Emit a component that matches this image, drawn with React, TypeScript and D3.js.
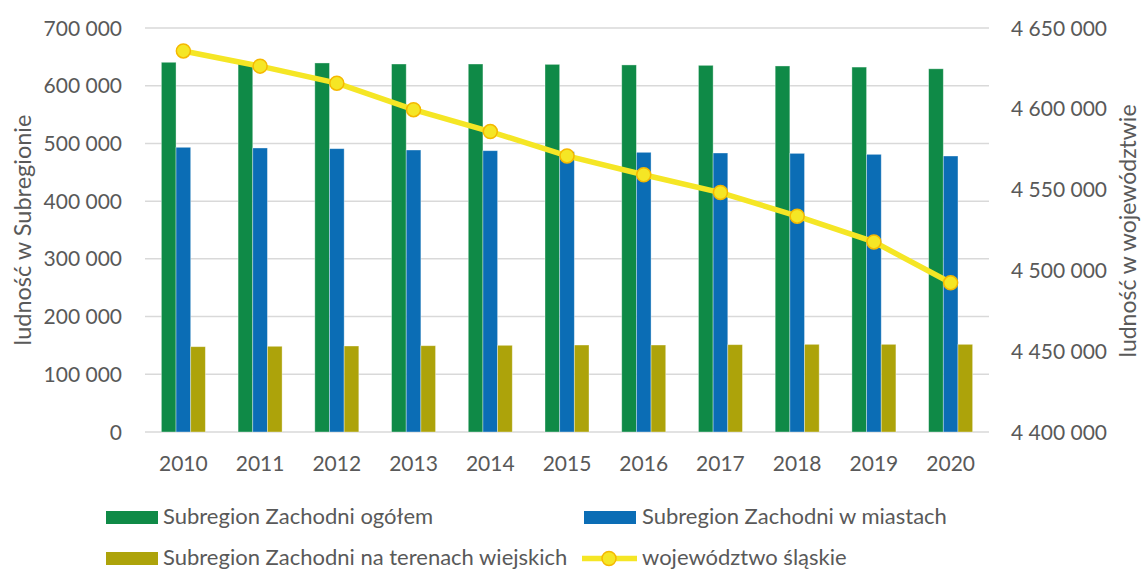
import * as d3 from 'd3';
import React from 'react';

const years = ['2010', '2011', '2012', '2013', '2014', '2015', '2016', '2017', '2018', '2019', '2020'];
const ogolem = [640600, 639500, 639400, 637600, 637600, 637000, 636000, 635300, 634200, 632300, 629300];
const miasta = [493300, 492100, 490900, 488600, 487400, 485700, 484600, 483400, 482800, 481100, 478200];
const wies = [147800, 148500, 149000, 149500, 150200, 150700, 150700, 151300, 151900, 151900, 151900];
const wojewodztwo = [4635800, 4626400, 4615870, 4599447, 4585924, 4570849, 4559164, 4548180, 4533565, 4517635, 4492330];

const leftTicks = [0, 100000, 200000, 300000, 400000, 500000, 600000, 700000];
const rightTicks = [4400000, 4450000, 4500000, 4550000, 4600000, 4650000];

const barSeries = [
  { name: 'Subregion Zachodni ogółem', values: ogolem, color: '#0F8A47' },
  { name: 'Subregion Zachodni w miastach', values: miasta, color: '#0B6DB5' },
  { name: 'Subregion Zachodni na terenach wiejskich', values: wies, color: '#ADA30A' },
];
const lineName = 'województwo śląskie';

const font = 'Lato, "Open Sans", sans-serif';
const textColor = '#595959';

const fmt = d3.formatLocale({ decimal: ',', thousands: ' ', grouping: [3], currency: ['', ''] }).format(',d');

function App() {
  const width = 1143;
  const height = 571;
  const plot = { left: 145, right: 989, top: 28, bottom: 432 };

  const x = d3.scaleBand<string>().domain(years).range([plot.left, plot.right]);
  const inner = d3.scaleBand<number>().domain([0, 1, 2]).range([-22, 22]);
  const yL = d3.scaleLinear().domain([0, 700000]).range([plot.bottom, plot.top]);
  const yR = d3.scaleLinear().domain([4400000, 4650000]).range([plot.bottom, plot.top]);

  const cx = (y: string) => (x(y) || 0) + x.bandwidth() / 2;

  const line = d3.line<number>()
    .x((d, i) => cx(years[i]))
    .y((d) => yR(d));

  return (
    <svg width={width} height={height} style={{ position: 'absolute', left: 0, top: 0, background: '#fff' }}
      fontFamily={font}>
      {leftTicks.map((t) => (
        <line key={'g' + t} x1={plot.left} x2={plot.right} y1={yL(t)} y2={yL(t)} stroke="#D9D9D9" strokeWidth={1.5} />
      ))}
      {leftTicks.map((t) => (
        <text key={'l' + t} x={122} y={yL(t)} dy="0.36em" textAnchor="end" fontSize={21} fill={textColor}>{fmt(t)}</text>
      ))}
      {rightTicks.map((t) => (
        <text key={'r' + t} x={1011} y={yR(t)} dy="0.36em" textAnchor="start" fontSize={21} fill={textColor}>{fmt(t)}</text>
      ))}
      {years.map((y) => (
        <text key={'x' + y} x={cx(y)} y={471} textAnchor="middle" fontSize={21} fill={textColor}>{y}</text>
      ))}
      <text transform="translate(31,230) rotate(-90)" textAnchor="middle" fontSize={23.5} fill={textColor}>ludność w Subregionie</text>
      <text transform="translate(1136,231) rotate(-90)" textAnchor="middle" fontSize={23} fill={textColor}>ludność w województwie</text>

      {barSeries.map((s, si) => (
        <g key={s.name}>
          {s.values.map((v, i) => (
            <rect key={i}
              x={cx(years[i]) + (inner(si) || 0)}
              y={yL(v)}
              width={inner.bandwidth()}
              height={yL(0) - yL(v)}
              fill={s.color}
              stroke="#ffffff" strokeOpacity={0.45} strokeWidth={0.8} />
          ))}
        </g>
      ))}

      <path d={line(wojewodztwo) || ''} fill="none" stroke="#F5E625" strokeWidth={5.5} />
      {wojewodztwo.map((v, i) => (
        <circle key={i} cx={cx(years[i])} cy={yR(v)} r={7} fill="#F5E625" stroke="#F5B800" strokeWidth={1.5} />
      ))}

      {/* legend */}
      <rect x={106} y={511} width={52} height={13} fill={barSeries[0].color} />
      <text x={163} y={524} fontSize={22} fill={textColor}>{barSeries[0].name}</text>
      <rect x={584} y={511} width={52} height={13} fill={barSeries[1].color} />
      <text x={642} y={524} fontSize={22} fill={textColor}>{barSeries[1].name}</text>
      <rect x={106} y={552} width={52} height={13} fill={barSeries[2].color} />
      <text x={163} y={565} fontSize={22} fill={textColor}>{barSeries[2].name}</text>
      <line x1={582} x2={637} y1={558.5} y2={558.5} stroke="#F5E625" strokeWidth={5.5} />
      <circle cx={609} cy={558.5} r={7} fill="#F5E625" stroke="#F5B800" strokeWidth={1.5} />
      <text x={642} y={565} fontSize={22} fill={textColor}>{lineName}</text>
    </svg>
  );
}

export default App;
